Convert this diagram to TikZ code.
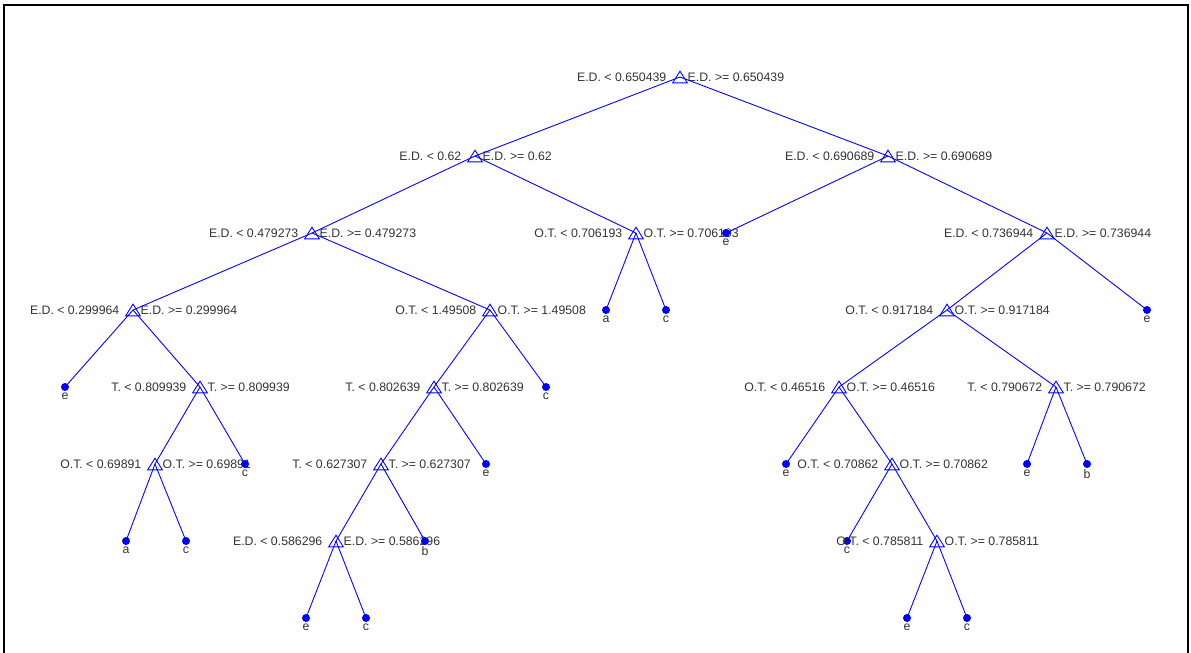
\documentclass[tikz,border=0pt]{standalone}
\usepackage{fontspec}
\setmainfont{Liberation Sans}
\usetikzlibrary{positioning}

\tikzset{
  split/.style={rectangle,inner sep=0pt,minimum width=0.28cm,minimum height=0.22cm},
  leaf/.style={circle,fill=blue,inner sep=0pt,minimum size=0.16cm},
  lbl/.style={inner sep=0pt,text=black!80,font=\fontsize{7}{8.5}\selectfont},
  edge/.style={blue,line width=0.5pt}
}

% split node: name, position, left text, right text
\newcommand{\splitnode}[4]{%
  \node[split] (#1) at (#2) {};
  \node[lbl,left=0.12cm of #1] (#1-lt) {#3};
  \node[lbl,right=0cm of #1] (#1-ge) {#4};
  \draw[edge] (#1.south west) -- (#1.south east) -- (#1.north) -- cycle;
}
% leaf node: name, position, class
\newcommand{\leafnode}[3]{%
  \node[leaf,label={[lbl,yshift=-0.5pt]below:#3}] (#1) at (#2) {};
}

\begin{document}
\begin{tikzpicture}[x=0.02cm,y=-0.02cm]

\useasboundingbox (0,0) rectangle (1191,653);

% Rahmen
\draw[line width=0.6pt] (4,653) -- (4,5) -- (1188,5) -- (1188,653);

% Ebene 0 und 1
\splitnode{r}{680,77}{E.D. < 0.650439}{E.D. >= 0.650439}
\splitnode{l}{475,156}{E.D. < 0.62}{E.D. >= 0.62}
\splitnode{rt}{888,156}{E.D. < 0.690689}{E.D. >= 0.690689}

% Ebene 2
\splitnode{ll}{312,233}{E.D. < 0.479273}{E.D. >= 0.479273}
\splitnode{lr}{636,233}{O.T. < 0.706193}{O.T. >= 0.706193}
\leafnode{rte}{726,233}{e}
\splitnode{rr}{1047,233}{E.D. < 0.736944}{E.D. >= 0.736944}

% Ebene 3
\splitnode{lll}{133,310}{E.D. < 0.299964}{E.D. >= 0.299964}
\splitnode{llr}{490,310}{O.T. < 1.49508}{O.T. >= 1.49508}
\leafnode{lra}{606,310}{a}
\leafnode{lrc}{666,310}{c}
\splitnode{rrl}{947,310}{O.T. < 0.917184}{O.T. >= 0.917184}
\leafnode{rre}{1147,310}{e}

% Ebene 4
\leafnode{llle}{65,387}{e}
\splitnode{lllr}{200,387}{T. < 0.809939}{T. >= 0.809939}
\splitnode{llrl}{434,387}{T. < 0.802639}{T. >= 0.802639}
\leafnode{llrc}{546,387}{c}
\splitnode{rrll}{839,387}{O.T. < 0.46516}{O.T. >= 0.46516}
\splitnode{rrlr}{1056,387}{T. < 0.790672}{T. >= 0.790672}

% Ebene 5
\splitnode{lllrl}{155,464}{O.T. < 0.69891}{O.T. >= 0.69891}
\leafnode{lllrc}{245,464}{c}
\splitnode{llrll}{381,464}{T. < 0.627307}{T. >= 0.627307}
\leafnode{llrle}{486,464}{e}
\leafnode{rrlle}{786,464}{e}
\splitnode{rrllr}{892,464}{O.T. < 0.70862}{O.T. >= 0.70862}
\leafnode{rrlre}{1027,464}{e}
\leafnode{rrlrb}{1087,464}{b}

% Ebene 6
\leafnode{lllrla}{126,541}{a}
\leafnode{lllrlc}{186,541}{c}
\splitnode{llrlll}{336,541}{E.D. < 0.586296}{E.D. >= 0.586296}
\leafnode{llrllb}{425,541}{b}
\leafnode{rrllrc}{847,541}{c}
\splitnode{rrllrr}{937,541}{O.T. < 0.785811}{O.T. >= 0.785811}

% Ebene 7
\leafnode{llrllle}{306,618}{e}
\leafnode{llrlllc}{366,618}{c}
\leafnode{rrllrre}{907,618}{e}
\leafnode{rrllrrc}{967,618}{c}

% Kanten
\foreach \a/\b in {r/l,r/rt,l/ll,l/lr,rt/rte,rt/rr,
    ll/lll,ll/llr,lr/lra,lr/lrc,rr/rrl,rr/rre,
    lll/llle,lll/lllr,llr/llrl,llr/llrc,rrl/rrll,rrl/rrlr,
    lllr/lllrl,lllr/lllrc,llrl/llrll,llrl/llrle,
    rrll/rrlle,rrll/rrllr,rrlr/rrlre,rrlr/rrlrb,
    lllrl/lllrla,lllrl/lllrlc,llrll/llrlll,llrll/llrllb,
    rrllr/rrllrc,rrllr/rrllrr,
    llrlll/llrllle,llrlll/llrlllc,rrllrr/rrllrre,rrllrr/rrllrrc}
  \draw[edge] (\a.center) -- (\b.center);

\end{tikzpicture}
\end{document}
